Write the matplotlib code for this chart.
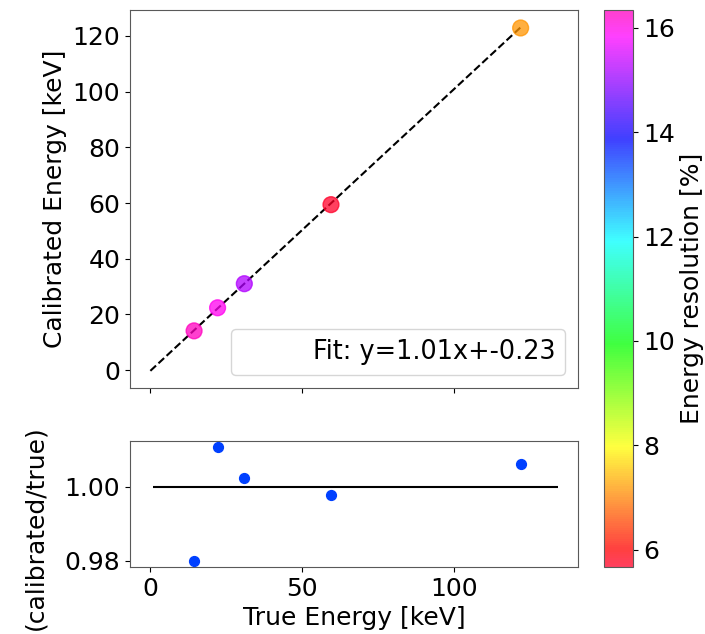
import numpy as np
import matplotlib
matplotlib.use('Agg')
import matplotlib.pyplot as plt

plt.rcParams['font.size'] = 18

# calibration lines: true energy, calibrated energy, resolution
true_energy = np.array([14.41, 22.16, 30.97, 59.54, 122.06])
calib_energy = np.array([14.12, 22.40, 31.04, 59.41, 122.82])
resolution = np.array([16.34, 15.95, 15.25, 5.67, 7.15])

fit_slope = 1.01
fit_intercept = -0.23

ratio = calib_energy / true_energy

fig = plt.figure(figsize=(7.05, 6.34), dpi=100)
ax_main = fig.add_axes([0.1844, 0.388, 0.6355, 0.596])
ax_res = fig.add_axes([0.1844, 0.1057, 0.6355, 0.1987], sharex=ax_main)
cax = fig.add_axes([0.857, 0.1057, 0.041, 0.8785])

# fitted line
fx = np.array([0, true_energy.max()])
ax_main.plot(fx, fit_slope * fx + fit_intercept, 'k--', lw=1.5)
sc = ax_main.scatter(true_energy, calib_energy, c=resolution, cmap='gist_rainbow',
                     s=130, alpha=0.75, zorder=3)
ax_main.plot([], [], ' ', label=f'Fit: y={fit_slope}x+{fit_intercept}')
ax_main.legend(loc='lower right', fontsize=18.4)
ax_main.set_ylabel('Calibrated Energy [keV]')
ax_main.set_yticks([0, 20, 40, 60, 80, 100, 120])
plt.setp(ax_main.get_xticklabels(), visible=False)

cb = fig.colorbar(sc, cax=cax)
cb.set_label('Energy resolution [%]')

# ratio panel
ax_res.hlines(1.0, 1, 1.1 * true_energy.max(), color='k', lw=1.5)
ax_res.scatter(true_energy, ratio, color='#0040ff', s=50, zorder=3)
ax_res.set_yticks([0.98, 1.00])
ax_res.set_xticks([0, 50, 100])
ax_res.set_xlabel('True Energy [keV]')
ax_res.set_ylabel('(calibrated/true)')
ax_res.yaxis.set_label_coords(-0.185, 0.31)

for a in (ax_main, ax_res, cax):
    for sp in a.spines.values():
        sp.set_color('0.35')

plt.savefig('out.png', dpi=100)
